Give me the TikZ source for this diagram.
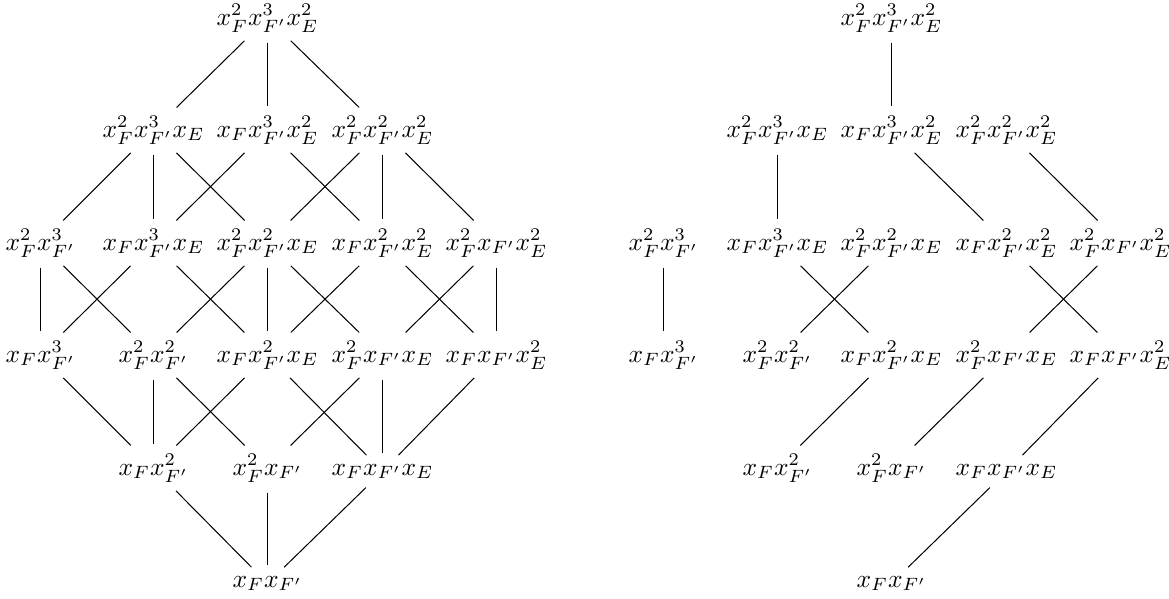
\documentclass[tikz,border=0pt]{standalone}
\begin{document}
\begin{tikzpicture}[x=0.3922pt,y=-0.3922pt,
    mono/.style={anchor=base, inner sep=1.5pt},
    every path/.style={shorten <=2.5pt, shorten >=2.5pt}]
\useasboundingbox (0,0) rectangle (1169,599);
% left: all monomials
\node(l232) [mono] at (267.5,25) {$x_F^2x_{F'}^3x_E^2$};
\node(l231) [mono] at (153.5,137) {$x_F^2x_{F'}^3x_E$};
\node(l132) [mono] at (267.5,137) {$x_Fx_{F'}^3x_E^2$};
\node(l222) [mono] at (382.5,137) {$x_F^2x_{F'}^2x_E^2$};
\node(l230) [mono] at (40.5,250) {$x_F^2x_{F'}^3$};
\node(l131) [mono] at (153.5,250) {$x_Fx_{F'}^3x_E$};
\node(l221) [mono] at (267.5,250) {$x_F^2x_{F'}^2x_E$};
\node(l122) [mono] at (382.5,250) {$x_Fx_{F'}^2x_E^2$};
\node(l212) [mono] at (496.5,250) {$x_F^2x_{F'}x_E^2$};
\node(l130) [mono] at (40.5,362) {$x_Fx_{F'}^3$};
\node(l220) [mono] at (153.5,362) {$x_F^2x_{F'}^2$};
\node(l121) [mono] at (267.5,362) {$x_Fx_{F'}^2x_E$};
\node(l211) [mono] at (382.5,362) {$x_F^2x_{F'}x_E$};
\node(l112) [mono] at (496.5,362) {$x_Fx_{F'}x_E^2$};
\node(l120) [mono] at (153.5,475) {$x_Fx_{F'}^2$};
\node(l210) [mono] at (267.5,475) {$x_F^2x_{F'}$};
\node(l111) [mono] at (382.5,475) {$x_Fx_{F'}x_E$};
\node(l110) [mono] at (267.5,587) {$x_Fx_{F'}$};
\draw (l232) -- (l231);
\draw (l232) -- (l132);
\draw (l232) -- (l222);
\draw (l231) -- (l230);
\draw (l231) -- (l131);
\draw (l231) -- (l221);
\draw (l132) -- (l131);
\draw (l132) -- (l122);
\draw (l222) -- (l221);
\draw (l222) -- (l122);
\draw (l222) -- (l212);
\draw (l230) -- (l130);
\draw (l230) -- (l220);
\draw (l131) -- (l130);
\draw (l131) -- (l121);
\draw (l221) -- (l220);
\draw (l221) -- (l121);
\draw (l221) -- (l211);
\draw (l122) -- (l121);
\draw (l122) -- (l112);
\draw (l212) -- (l211);
\draw (l212) -- (l112);
\draw (l130) -- (l120);
\draw (l220) -- (l120);
\draw (l220) -- (l210);
\draw (l121) -- (l120);
\draw (l121) -- (l111);
\draw (l211) -- (l210);
\draw (l211) -- (l111);
\draw (l112) -- (l111);
\draw (l120) -- (l110);
\draw (l210) -- (l110);
\draw (l111) -- (l110);
% right: same monomials, fewer edges
\node(r232) [mono] at (891.5,25) {$x_F^2x_{F'}^3x_E^2$};
\node(r231) [mono] at (777.5,137) {$x_F^2x_{F'}^3x_E$};
\node(r132) [mono] at (891.5,137) {$x_Fx_{F'}^3x_E^2$};
\node(r222) [mono] at (1006.5,137) {$x_F^2x_{F'}^2x_E^2$};
\node(r230) [mono] at (663.5,250) {$x_F^2x_{F'}^3$};
\node(r131) [mono] at (777.5,250) {$x_Fx_{F'}^3x_E$};
\node(r221) [mono] at (891.5,250) {$x_F^2x_{F'}^2x_E$};
\node(r122) [mono] at (1006.5,250) {$x_Fx_{F'}^2x_E^2$};
\node(r212) [mono] at (1120.5,250) {$x_F^2x_{F'}x_E^2$};
\node(r130) [mono] at (663.5,362) {$x_Fx_{F'}^3$};
\node(r220) [mono] at (777.5,362) {$x_F^2x_{F'}^2$};
\node(r121) [mono] at (891.5,362) {$x_Fx_{F'}^2x_E$};
\node(r211) [mono] at (1006.5,362) {$x_F^2x_{F'}x_E$};
\node(r112) [mono] at (1120.5,362) {$x_Fx_{F'}x_E^2$};
\node(r120) [mono] at (777.5,475) {$x_Fx_{F'}^2$};
\node(r210) [mono] at (891.5,475) {$x_F^2x_{F'}$};
\node(r111) [mono] at (1006.5,475) {$x_Fx_{F'}x_E$};
\node(r110) [mono] at (891.5,587) {$x_Fx_{F'}$};
\draw (r232) -- (r132);
\draw (r231) -- (r131);
\draw (r132) -- (r122);
\draw (r222) -- (r212);
\draw (r230) -- (r130);
\draw (r131) -- (r121);
\draw (r221) -- (r220);
\draw (r122) -- (r112);
\draw (r212) -- (r211);
\draw (r121) -- (r120);
\draw (r211) -- (r210);
\draw (r112) -- (r111);
\draw (r111) -- (r110);
\end{tikzpicture}
\end{document}
